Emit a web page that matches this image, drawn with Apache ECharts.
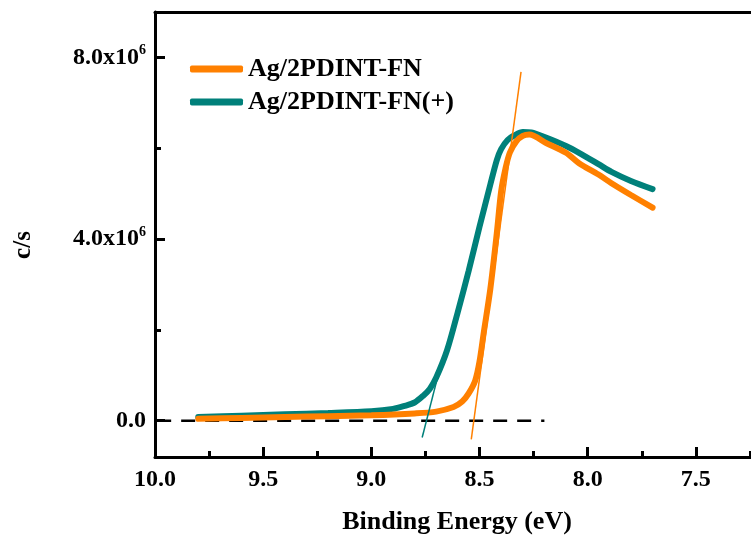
<!DOCTYPE html>
<html>
<head>
<meta charset="utf-8">
<script src="https://cdn.jsdelivr.net/npm/echarts@6/dist/echarts.min.js"></script>
<style>
  html, body { margin: 0; padding: 0; background: #fff; }
  #chart { width: 751px; height: 538px; }
</style>
</head>
<body>
<div id="chart"></div>
<script>
// binding energy (eV) and counts (x10^6 c/s)
const energyFN = [9.80, 9.60, 9.40, 9.20, 9.00, 8.80, 8.70, 8.62, 8.58, 8.55, 8.52, 8.50, 8.48, 8.45, 8.42, 8.40, 8.38, 8.36, 8.33, 8.30, 8.27, 8.19, 8.10, 8.04, 7.95, 7.89, 7.80, 7.70];
const countsFN = [0.04, 0.06, 0.08, 0.10, 0.12, 0.16, 0.20, 0.30, 0.42, 0.60, 0.88, 1.30, 1.95, 2.90, 4.13, 5.05, 5.55, 5.90, 6.15, 6.27, 6.30, 6.11, 5.90, 5.67, 5.42, 5.23, 4.97, 4.69];

const energyFNp = [9.80, 9.60, 9.40, 9.20, 9.00, 8.90, 8.85, 8.80, 8.76, 8.73, 8.70, 8.65, 8.60, 8.55, 8.50, 8.45, 8.42, 8.40, 8.37, 8.34, 8.30, 8.26, 8.19, 8.10, 8.04, 7.95, 7.89, 7.80, 7.70];
const countsFNp = [0.08, 0.11, 0.14, 0.17, 0.21, 0.26, 0.32, 0.40, 0.55, 0.70, 0.95, 1.55, 2.40, 3.30, 4.27, 5.20, 5.74, 5.98, 6.18, 6.28, 6.36, 6.35, 6.23, 6.05, 5.90, 5.65, 5.48, 5.28, 5.10];

// tangent lines and baseline
const tangentFN = [[8.538, -0.41], [8.308, 7.68]];
const tangentFNp = [[8.765, -0.37], [8.685, 1.12]];
const baseline = [[9.99, 0], [8.20, 0]];

const yLabelValues = [0, 4, 8];
const yMinorValues = [2, 6];

const names = ['Ag/2PDINT-FN', 'Ag/2PDINT-FN(+)'];
const orange = '#FF8000';
const teal = '#00807A';
const font = 'Liberation Serif';

const zip = (xs, ys) => xs.map((x, i) => [x, ys[i]]);

var chart = echarts.init(document.getElementById('chart'), null, { renderer: 'canvas' });

var option = {
    backgroundColor: '#fff',
    animation: false,
    grid: { left: 155, top: 12, right: -53, bottom: 81, containLabel: false, outerBoundsMode: 'none' },
    legend: {
        orient: 'vertical',
        left: 185,
        top: 51,
        itemWidth: 53,
        itemHeight: 7,
        itemGap: 7,
        itemTextGap: 6,
        icon: 'roundRect',
        data: names,
        textStyle: { fontFamily: font, fontWeight: 'bold', fontSize: 26, color: '#000' }
    },
    graphic: [{
        type: 'text',
        x: 457,
        y: 522,
        style: { text: 'Binding Energy (eV)', font: 'bold 26px "Liberation Serif"', fill: '#000', align: 'center', verticalAlign: 'middle' }
    }, {
        type: 'text',
        x: 24,
        y: 245,
        rotation: Math.PI / 2,
        style: { text: 'c/s', font: 'bold 25px "Liberation Serif"', fill: '#000', align: 'center', verticalAlign: 'middle' }
    }],
    xAxis: [{
        type: 'value',
        inverse: true,
        min: 7.0,
        max: 10.0,
        interval: 0.5,
        axisLine: { onZero: false, lineStyle: { color: '#000', width: 3 } },
        axisTick: { inside: true, length: 10, lineStyle: { width: 3, color: '#000' } },
        minorTick: { show: true, splitNumber: 2, length: 6, lineStyle: { width: 3, color: '#000' } },
        splitLine: { show: false },
        axisLabel: {
            margin: 11,
            formatter: v => v.toFixed(1),
            fontFamily: font, fontWeight: 'bold', fontSize: 24, color: '#000'
        }
    }, {
        type: 'value',
        position: 'top',
        inverse: true,
        min: 7.0,
        max: 10.0,
        axisLine: { show: true, onZero: false, lineStyle: { color: '#000', width: 3 } },
        axisTick: { show: false },
        axisLabel: { show: false },
        splitLine: { show: false }
    }],
    yAxis: [{
        type: 'value',
        min: -0.8,
        max: 9.0,
        axisLine: { show: true, onZero: false, lineStyle: { color: '#000', width: 3 } },
        axisTick: { inside: true, length: 10, customValues: yLabelValues, lineStyle: { width: 3, color: '#000' } },
        splitLine: { show: false },
        axisLabel: {
            margin: 9,
            customValues: yLabelValues,
            formatter: v => v === 0 ? '{n|0.0}' : '{n|' + v.toFixed(1) + 'x10}{s|6}',
            rich: {
                n: { fontFamily: font, fontWeight: 'bold', fontSize: 24, color: '#000' },
                s: { fontFamily: font, fontWeight: 'bold', fontSize: 14, color: '#000', padding: [0, 0, 14, 0] }
            }
        }
    }, {
        type: 'value',
        min: -0.8,
        max: 9.0,
        position: 'left',
        axisLine: { show: false, onZero: false },
        axisTick: { inside: true, length: 6, customValues: yMinorValues, lineStyle: { width: 3, color: '#000' } },
        axisLabel: { show: false },
        splitLine: { show: false }
    }],
    series: [{
        name: names[0],
        type: 'line',
        data: zip(energyFN, countsFN),
        smooth: 0.3,
        showSymbol: false,
        symbol: 'none',
        color: orange,
        lineStyle: { width: 6, color: orange, cap: 'round' },
        z: 3
    }, {
        name: names[1],
        type: 'line',
        data: zip(energyFNp, countsFNp),
        smooth: 0.3,
        showSymbol: false,
        symbol: 'none',
        color: teal,
        lineStyle: { width: 6, color: teal, cap: 'round' },
        z: 2
    }, {
        type: 'line',
        data: tangentFN,
        symbol: 'none',
        lineStyle: { width: 1.5, color: orange },
        z: 4
    }, {
        type: 'line',
        data: tangentFNp,
        symbol: 'none',
        lineStyle: { width: 1.5, color: teal },
        z: 4
    }, {
        type: 'line',
        data: baseline,
        symbol: 'none',
        lineStyle: { width: 2.5, color: '#000', type: [14, 10] },
        z: 1
    }]
};

chart.setOption(option);
</script>
</body>
</html>
